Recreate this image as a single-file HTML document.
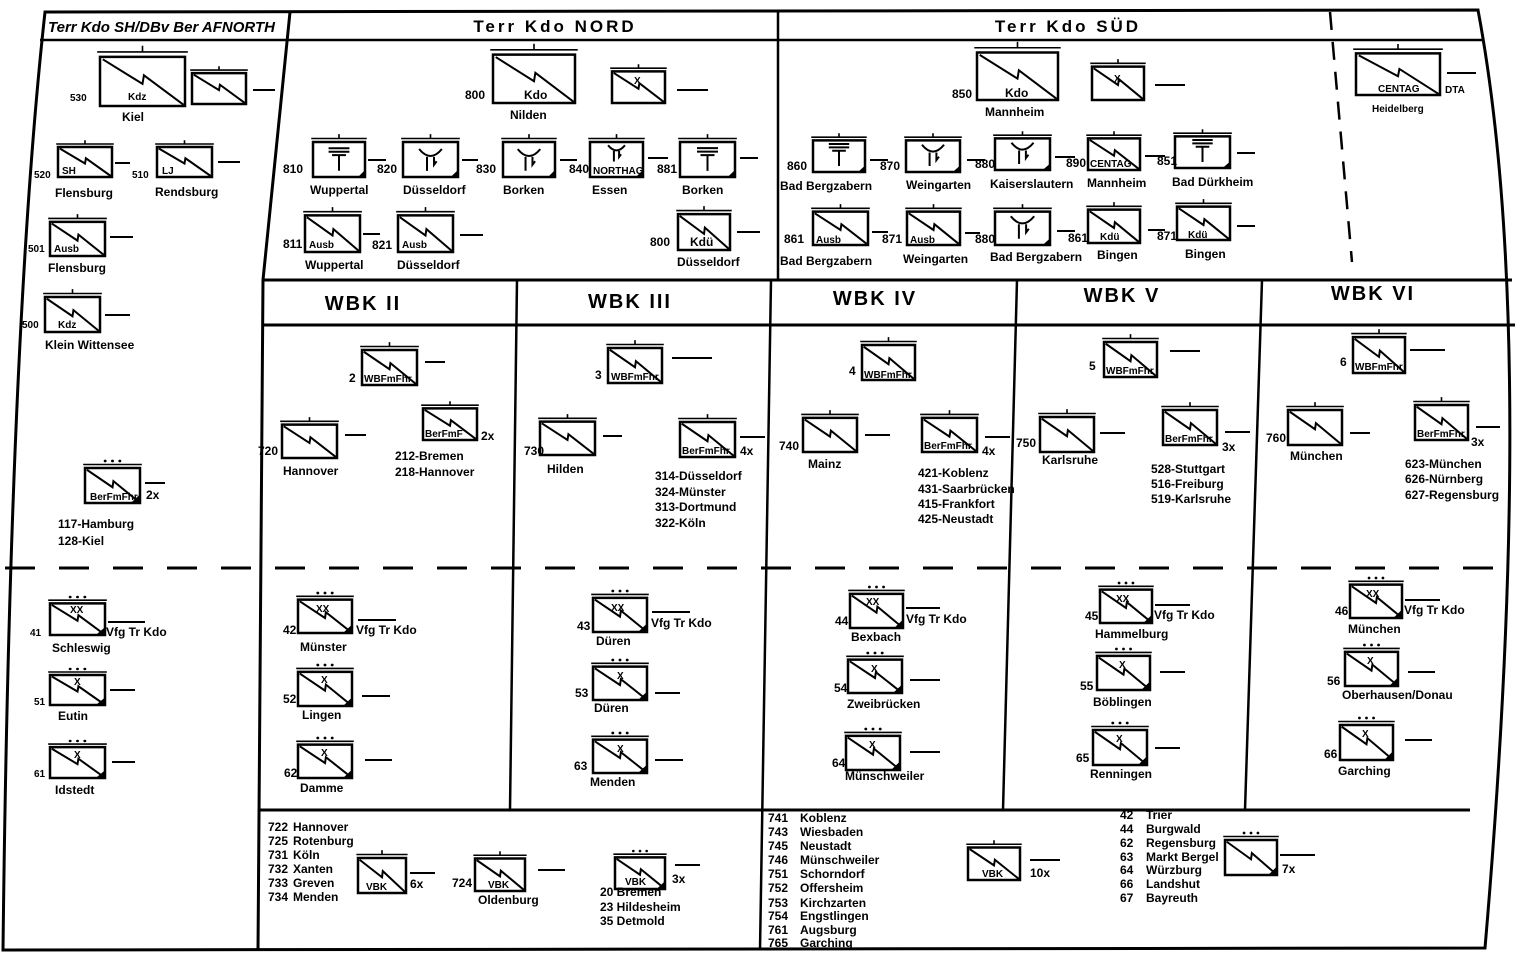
<!DOCTYPE html>
<html><head><meta charset="utf-8"><style>
html,body{margin:0;padding:0;background:#fff}
svg{display:block}
.f{fill:none;stroke:#000;stroke-width:2.5;vector-effect:non-scaling-stroke}
symbol *{vector-effect:non-scaling-stroke}
text{font-family:"Liberation Sans Narrow","Liberation Sans",sans-serif;font-weight:bold;font-size:12px;fill:#000}
.h{font-family:"Liberation Sans",sans-serif;font-size:17px;letter-spacing:3px}
.w{font-family:"Liberation Sans",sans-serif;font-size:20px;letter-spacing:2px}
.s{font-size:10px}
.l{stroke:#000;stroke-width:2;fill:none}
</style></head><body>
<svg width="1522" height="959" viewBox="0 0 1522 959" xmlns="http://www.w3.org/2000/svg">
<defs>
<symbol id="zt" viewBox="0 -8 60 48" preserveAspectRatio="none" overflow="visible">
<rect x="0" y="0" width="60" height="40" fill="none" stroke="#000" stroke-width="2.5"/>
<polyline points="2,2 30,22 31,15 59,39" fill="none" stroke="#000" stroke-width="2"/>
<path d="M-2 -4H62M30 -4V-9" fill="none" stroke="#000" stroke-width="1.6"/>
</symbol>
<symbol id="zd" viewBox="0 -8 60 48" preserveAspectRatio="none" overflow="visible">
<rect x="0" y="0" width="60" height="40" fill="none" stroke="#000" stroke-width="2.5"/>
<polyline points="2,2 30,22 31,15 59,39" fill="none" stroke="#000" stroke-width="2"/>
<path d="M-2 -4H62" fill="none" stroke="#000" stroke-width="1.6"/>
<polygon points="50,40 60,40 60,30" fill="#000"/>
<circle cx="22" cy="-8" r="1.6" fill="#000"/><circle cx="30" cy="-8" r="1.6" fill="#000"/><circle cx="38" cy="-8" r="1.6" fill="#000"/>
</symbol>
<symbol id="e" viewBox="0 -8 60 48" preserveAspectRatio="none" overflow="visible">
<rect x="0" y="0" width="60" height="40" fill="none" stroke="#000" stroke-width="2.5"/>
<path d="M-2 -4H62M30 -4V-9" fill="none" stroke="#000" stroke-width="1.6"/>
<polygon points="52,40 60,40 60,32" fill="#000"/>
</symbol>
<symbol id="tt" viewBox="0 0 60 40" overflow="visible"><path d="M18 7H42M18 11H42M22 15H38M30 15V33" fill="none" stroke="#000" stroke-width="2"/></symbol>
<symbol id="yy" viewBox="0 0 60 40" overflow="visible"><path d="M17 8Q30 24 43 8M26 17V33M34 17V26L37 22" fill="none" stroke="#000" stroke-width="2"/></symbol>
</defs>

<!-- frame -->
<path class="f" style="stroke-width:3" d="M45 12 L1478 10 Q1538 330 1485 948 L3 950 Q10 330 45 12Z"/>
<path class="f" d="M40 40H1482"/>
<path class="f" style="stroke-width:3" d="M290 12 L263 280 L258 950"/>
<path class="f" d="M778 12V280"/>
<path class="f" style="stroke-dasharray:18 12" d="M1330 12 L1352 262"/>
<path class="f" style="stroke-width:3" d="M263 280H1512M262 325H1515"/>
<path class="f" d="M517 280L510 810M771 280L760 950M1017 280L1003 810M1262 280L1245 810"/>
<path class="f" style="stroke-width:3;stroke-dasharray:30 24" d="M5 568H1505"/>
<path class="f" style="stroke-width:3" d="M259 810H1470"/>

<!-- headers -->
<text x="48" y="32" style="font-size:15px;font-style:italic">Terr Kdo SH/DBv Ber AFNORTH</text>
<text class="h" x="555" y="32" text-anchor="middle">Terr Kdo NORD</text>
<text class="h" x="1068" y="32" text-anchor="middle">Terr Kdo SÜD</text>
<text class="w" x="363" y="310" text-anchor="middle">WBK II</text>
<text class="w" x="630" y="308" text-anchor="middle">WBK III</text>
<text class="w" x="875" y="305" text-anchor="middle">WBK IV</text>
<text class="w" x="1122" y="302" text-anchor="middle">WBK V</text>
<text class="w" x="1373" y="300" text-anchor="middle">WBK VI</text>

<!-- left column -->
<use href="#zt" x="100" y="47" width="85" height="59"/><text x="70" y="101" class="s">530</text><text x="128" y="100" class="s">Kdz</text><text x="122" y="121">Kiel</text>
<use href="#zt" x="192" y="67" width="54" height="37"/><path class="l" d="M253 90H275"/>
<use href="#zt" x="58" y="141" width="54" height="36"/><text x="34" y="178" class="s">520</text><text x="62" y="174" class="s">SH</text><path class="l" d="M115 163H130"/><text x="132" y="178" class="s">510</text>
<use href="#zt" x="157" y="141" width="55" height="36"/><text x="162" y="174" class="s">LJ</text><path class="l" d="M218 162H240"/>
<text x="55" y="197">Flensburg</text><text x="155" y="196">Rendsburg</text>
<use href="#zt" x="50" y="215" width="55" height="41"/><text x="28" y="252" class="s">501</text><text x="54" y="252" class="s">Ausb</text><path class="l" d="M110 237H133"/><text x="48" y="272">Flensburg</text>
<use href="#zt" x="45" y="290" width="55" height="42"/><text x="22" y="328" class="s">500</text><text x="58" y="328" class="s">Kdz</text><path class="l" d="M105 315H130"/><text x="45" y="349">Klein Wittensee</text>
<use href="#zd" x="85" y="461" width="55" height="42"/><text x="90" y="500" class="s">BerFmFhr</text><path class="l" d="M145 483H165"/><text x="146" y="499">2x</text>
<text x="58" y="528">117-Hamburg</text><text x="58" y="545">128-Kiel</text>

<use href="#zd" x="50" y="597" width="55" height="38"/><text x="70" y="613" class="s">XX</text><text x="30" y="636" class="s">41</text><path class="l" d="M108 622H145"/><text x="106" y="636">Vfg Tr Kdo</text><text x="52" y="652">Schleswig</text>
<use href="#zd" x="50" y="669" width="55" height="36"/><text x="74" y="685" class="s">X</text><text x="34" y="705" class="s">51</text><path class="l" d="M110 690H135"/><text x="58" y="720">Eutin</text>
<use href="#zd" x="50" y="741" width="55" height="37"/><text x="74" y="758" class="s">X</text><text x="34" y="777" class="s">61</text><path class="l" d="M112 762H135"/><text x="55" y="794">Idstedt</text>

<!-- NORD -->
<use href="#zt" x="493" y="45" width="82" height="58"/><text x="465" y="99">800</text><text x="524" y="99">Kdo</text><text x="510" y="119">Nilden</text>
<use href="#zt" x="612" y="65" width="53" height="38"/><text x="634" y="84" class="s">X</text><path class="l" d="M677 90H708"/>
<use href="#e" x="313" y="135" width="52" height="42"/><use href="#tt" x="313" y="142" width="52" height="35"/><text x="283" y="173">810</text><path class="l" d="M368 160H386"/><text x="377" y="173">820</text>
<use href="#e" x="403" y="135" width="55" height="42"/><use href="#yy" x="403" y="142" width="55" height="35"/><path class="l" d="M462 160H478"/><text x="476" y="173">830</text>
<use href="#e" x="503" y="135" width="52" height="42"/><use href="#yy" x="503" y="142" width="52" height="35"/><path class="l" d="M560 160H577"/><text x="569" y="173">840</text>
<use href="#e" x="590" y="135" width="53" height="42"/><use href="#yy" x="590" y="140" width="53" height="26"/><text x="593" y="174" class="s">NORTHAG</text><path class="l" d="M648 158H668"/><text x="657" y="173">881</text>
<use href="#e" x="680" y="135" width="55" height="42"/><use href="#tt" x="680" y="142" width="55" height="35"/><path class="l" d="M740 158H758"/>
<text x="310" y="194">Wuppertal</text><text x="403" y="194">Düsseldorf</text><text x="503" y="194">Borken</text><text x="592" y="194">Essen</text><text x="682" y="194">Borken</text>
<use href="#zt" x="305" y="208" width="55" height="44"/><text x="283" y="248">811</text><text x="309" y="248" class="s">Ausb</text><path class="l" d="M363 234H380"/><text x="372" y="249">821</text>
<use href="#zt" x="398" y="208" width="55" height="44"/><text x="402" y="248" class="s">Ausb</text><path class="l" d="M460 235H483"/>
<text x="305" y="269">Wuppertal</text><text x="397" y="269">Düsseldorf</text>
<use href="#zt" x="678" y="207" width="52" height="43"/><text x="650" y="246">800</text><text x="690" y="246">Kdü</text><path class="l" d="M737 232H760"/><text x="677" y="266">Düsseldorf</text>

<!-- SÜD -->
<use href="#zt" x="977" y="43" width="81" height="57"/><text x="952" y="98">850</text><text x="1005" y="97">Kdo</text><text x="985" y="116">Mannheim</text>
<use href="#zt" x="1092" y="60" width="52" height="40"/><text x="1114" y="82" class="s">X</text><path class="l" d="M1155 85H1185"/>
<use href="#e" x="813" y="134" width="52" height="38"/><use href="#tt" x="813" y="138" width="52" height="34"/><text x="787" y="170">860</text><path class="l" d="M870 160H888"/><text x="880" y="170">870</text>
<use href="#e" x="906" y="134" width="54" height="38"/><use href="#yy" x="906" y="138" width="54" height="34"/><path class="l" d="M967 160H985"/><text x="975" y="168">880</text>
<use href="#e" x="995" y="132" width="55" height="38"/><use href="#yy" x="995" y="136" width="55" height="34"/><path class="l" d="M1055 157H1075"/><text x="1066" y="167">890</text>
<use href="#zt" x="1088" y="132" width="52" height="38"/><text x="1090" y="167" class="s">CENTAG</text><path class="l" d="M1145 156H1165"/><text x="1157" y="165">851</text>
<use href="#e" x="1175" y="130" width="55" height="38"/><use href="#tt" x="1175" y="134" width="55" height="34"/><path class="l" d="M1237 153H1255"/>
<text x="780" y="190">Bad Bergzabern</text><text x="906" y="189">Weingarten</text><text x="990" y="188">Kaiserslautern</text><text x="1087" y="187">Mannheim</text><text x="1172" y="186">Bad Dürkheim</text>
<use href="#zt" x="813" y="205" width="55" height="40"/><text x="784" y="243">861</text><text x="816" y="243" class="s">Ausb</text><path class="l" d="M872 232H888"/><text x="882" y="243">871</text>
<use href="#zt" x="907" y="205" width="53" height="40"/><text x="910" y="243" class="s">Ausb</text><path class="l" d="M965 233H980"/><text x="975" y="243">880</text>
<use href="#e" x="995" y="205" width="55" height="40"/><use href="#yy" x="995" y="209" width="55" height="36"/><path class="l" d="M1057 231H1075"/><text x="1068" y="242">861</text>
<use href="#zt" x="1088" y="203" width="52" height="40"/><text x="1100" y="240" class="s">Kdü</text><path class="l" d="M1148 230H1165"/><text x="1157" y="240">871</text>
<use href="#zt" x="1177" y="200" width="53" height="40"/><text x="1188" y="238" class="s">Kdü</text><path class="l" d="M1237 226H1255"/>
<text x="780" y="265">Bad Bergzabern</text><text x="903" y="263">Weingarten</text><text x="990" y="261">Bad Bergzabern</text><text x="1097" y="259">Bingen</text><text x="1185" y="258">Bingen</text>
<use href="#zt" x="1356" y="45" width="84" height="50"/><text x="1378" y="92" class="s">CENTAG</text><text x="1445" y="93" class="s">DTA</text><path class="l" d="M1447 73H1476"/><text x="1372" y="112" class="s">Heidelberg</text>

<!-- WBK upper -->
<use href="#zt" x="362" y="343" width="55" height="42"/><text x="349" y="382">2</text><text x="364" y="382" class="s">WBFmFhr</text><path class="l" d="M425 362H445"/>
<use href="#zt" x="282" y="418" width="55" height="40"/><text x="258" y="455">720</text><path class="l" d="M345 435H366"/><text x="283" y="475">Hannover</text>
<use href="#zt" x="423" y="402" width="54" height="38"/><text x="425" y="437" class="s">BerFmF</text><text x="481" y="440">2x</text><text x="395" y="460">212-Bremen</text><text x="395" y="476">218-Hannover</text>
<use href="#zt" x="608" y="341" width="54" height="42"/><text x="595" y="379">3</text><text x="611" y="380" class="s">WBFmFhr</text><path class="l" d="M672 358H712"/>
<use href="#zt" x="540" y="415" width="55" height="40"/><text x="524" y="455">730</text><path class="l" d="M603 436H622"/><text x="547" y="473">Hilden</text>
<use href="#zt" x="680" y="415" width="55" height="42"/><text x="682" y="454" class="s">BerFmFhr</text><path class="l" d="M740 437H765"/><text x="740" y="455">4x</text>
<text x="655" y="480">314-Düsseldorf</text><text x="655" y="496">324-Münster</text><text x="655" y="511">313-Dortmund</text><text x="655" y="527">322-Köln</text>
<use href="#zt" x="862" y="338" width="53" height="42"/><text x="849" y="375">4</text><text x="864" y="378" class="s">WBFmFhr</text>
<use href="#zt" x="803" y="411" width="54" height="41"/><text x="779" y="450">740</text><path class="l" d="M865 435H890"/><text x="808" y="468">Mainz</text>
<use href="#zt" x="922" y="411" width="55" height="41"/><text x="924" y="449" class="s">BerFmFhr</text><path class="l" d="M985 437H1010"/><text x="982" y="455">4x</text>
<text x="918" y="477">421-Koblenz</text><text x="918" y="493">431-Saarbrücken</text><text x="918" y="508">415-Frankfort</text><text x="918" y="523">425-Neustadt</text>
<use href="#zt" x="1104" y="335" width="53" height="42"/><text x="1089" y="370">5</text><text x="1106" y="374" class="s">WBFmFhr</text><path class="l" d="M1170 351H1200"/>
<use href="#zt" x="1040" y="410" width="54" height="42"/><text x="1016" y="447">750</text><path class="l" d="M1100 433H1125"/><text x="1042" y="464">Karlsruhe</text>
<use href="#zt" x="1163" y="403" width="54" height="42"/><text x="1165" y="442" class="s">BerFmFhr</text><path class="l" d="M1225 432H1250"/><text x="1222" y="451">3x</text>
<text x="1151" y="473">528-Stuttgart</text><text x="1151" y="488">516-Freiburg</text><text x="1151" y="503">519-Karlsruhe</text>
<use href="#zt" x="1353" y="330" width="52" height="43"/><text x="1340" y="366">6</text><text x="1355" y="370" class="s">WBFmFhr</text><path class="l" d="M1410 350H1445"/>
<use href="#zt" x="1288" y="403" width="54" height="42"/><text x="1266" y="442">760</text><path class="l" d="M1350 433H1370"/><text x="1290" y="460">München</text>
<use href="#zt" x="1415" y="398" width="53" height="42"/><text x="1417" y="437" class="s">BerFmFhr</text><path class="l" d="M1476 427H1500"/><text x="1471" y="446">3x</text>
<text x="1405" y="468">623-München</text><text x="1405" y="483">626-Nürnberg</text><text x="1405" y="499">627-Regensburg</text>

<!-- WBK lower -->
<use href="#zd" x="298" y="593" width="54" height="40"/><text x="316" y="612" class="s">XX</text><text x="283" y="634">42</text><path class="l" d="M358 620H396"/><text x="356" y="634">Vfg Tr Kdo</text><text x="300" y="651">Münster</text>
<use href="#zd" x="298" y="665" width="54" height="41"/><text x="321" y="683" class="s">X</text><text x="283" y="703">52</text><path class="l" d="M362 696H390"/><text x="302" y="719">Lingen</text>
<use href="#zd" x="298" y="738" width="54" height="40"/><text x="321" y="756" class="s">X</text><text x="284" y="777">62</text><path class="l" d="M365 760H392"/><text x="300" y="792">Damme</text>
<use href="#zd" x="593" y="591" width="54" height="41"/><text x="611" y="611" class="s">XX</text><text x="577" y="630">43</text><path class="l" d="M652 612H690"/><text x="651" y="627">Vfg Tr Kdo</text><text x="596" y="645">Düren</text>
<use href="#zd" x="593" y="660" width="54" height="40"/><text x="617" y="679" class="s">X</text><text x="575" y="697">53</text><path class="l" d="M655 693H680"/><text x="594" y="712">Düren</text>
<use href="#zd" x="593" y="733" width="54" height="40"/><text x="617" y="752" class="s">X</text><text x="574" y="770">63</text><path class="l" d="M655 760H683"/><text x="590" y="786">Menden</text>
<use href="#zd" x="850" y="587" width="53" height="41"/><text x="866" y="605" class="s">XX</text><text x="835" y="625">44</text><path class="l" d="M906 608H940"/><text x="906" y="623">Vfg Tr Kdo</text><text x="851" y="641">Bexbach</text>
<use href="#zd" x="848" y="653" width="54" height="40"/><text x="871" y="672" class="s">X</text><text x="834" y="692">54</text><path class="l" d="M910 680H940"/><text x="847" y="708">Zweibrücken</text>
<use href="#zd" x="846" y="729" width="54" height="41"/><text x="869" y="748" class="s">X</text><text x="832" y="767">64</text><path class="l" d="M910 752H940"/><text x="845" y="780">Münschweiler</text>
<use href="#zd" x="1100" y="583" width="52" height="40"/><text x="1116" y="602" class="s">XX</text><text x="1085" y="620">45</text><path class="l" d="M1155 605H1190"/><text x="1154" y="619">Vfg Tr Kdo</text><text x="1095" y="638">Hammelburg</text>
<use href="#zd" x="1097" y="649" width="53" height="41"/><text x="1119" y="668" class="s">X</text><text x="1080" y="690">55</text><path class="l" d="M1160 672H1185"/><text x="1093" y="706">Böblingen</text>
<use href="#zd" x="1093" y="723" width="54" height="42"/><text x="1116" y="742" class="s">X</text><text x="1076" y="762">65</text><path class="l" d="M1155 748H1180"/><text x="1090" y="778">Renningen</text>
<use href="#zd" x="1350" y="578" width="52" height="40"/><text x="1366" y="597" class="s">XX</text><text x="1335" y="615">46</text><path class="l" d="M1405 600H1440"/><text x="1404" y="614">Vfg Tr Kdo</text><text x="1348" y="633">München</text>
<use href="#zd" x="1345" y="645" width="53" height="41"/><text x="1367" y="664" class="s">X</text><text x="1327" y="685">56</text><path class="l" d="M1408 672H1435"/><text x="1342" y="699">Oberhausen/Donau</text>
<use href="#zd" x="1340" y="718" width="53" height="42"/><text x="1362" y="737" class="s">X</text><text x="1324" y="758">66</text><path class="l" d="M1405 740H1432"/><text x="1338" y="775">Garching</text>

<!-- bottom left -->
<g>
<text x="268" y="831">722</text><text x="293" y="831">Hannover</text>
<text x="268" y="845">725</text><text x="293" y="845">Rotenburg</text>
<text x="268" y="859">731</text><text x="293" y="859">Köln</text>
<text x="268" y="873">732</text><text x="293" y="873">Xanten</text>
<text x="268" y="887">733</text><text x="293" y="887">Greven</text>
<text x="268" y="901">734</text><text x="293" y="901">Menden</text>
</g>
<use href="#zt" x="358" y="851" width="48" height="42"/><text x="366" y="890" class="s">VBK</text><path class="l" d="M410 873H435"/><text x="410" y="888">6x</text>
<text x="452" y="887">724</text><use href="#zt" x="475" y="852" width="50" height="39"/><text x="488" y="888" class="s">VBK</text><path class="l" d="M538 870H565"/><text x="478" y="904">Oldenburg</text>
<use href="#zd" x="615" y="851" width="50" height="38"/><text x="625" y="885" class="s">VBK</text><path class="l" d="M675 865H700"/><text x="672" y="883">3x</text>
<text x="600" y="896">20 Bremen</text><text x="600" y="911">23 Hildesheim</text><text x="600" y="925">35 Detmold</text>

<!-- bottom right -->
<g>
<text x="768" y="822">741</text><text x="800" y="822">Koblenz</text>
<text x="768" y="836">743</text><text x="800" y="836">Wiesbaden</text>
<text x="768" y="850">745</text><text x="800" y="850">Neustadt</text>
<text x="768" y="864">746</text><text x="800" y="864">Münschweiler</text>
<text x="768" y="878">751</text><text x="800" y="878">Schorndorf</text>
<text x="768" y="892">752</text><text x="800" y="892">Offersheim</text>
<text x="768" y="907">753</text><text x="800" y="907">Kirchzarten</text>
<text x="768" y="920">754</text><text x="800" y="920">Engstlingen</text>
<text x="768" y="934">761</text><text x="800" y="934">Augsburg</text>
<text x="768" y="947">765</text><text x="800" y="947">Garching</text>
</g>
<use href="#zt" x="968" y="841" width="52" height="39"/><text x="982" y="877" class="s">VBK</text><path class="l" d="M1030 860H1060"/><text x="1030" y="877">10x</text>
<g>
<text x="1120" y="819">42</text><text x="1146" y="819">Trier</text>
<text x="1120" y="833">44</text><text x="1146" y="833">Burgwald</text>
<text x="1120" y="847">62</text><text x="1146" y="847">Regensburg</text>
<text x="1120" y="861">63</text><text x="1146" y="861">Markt Bergel</text>
<text x="1120" y="874">64</text><text x="1146" y="874">Würzburg</text>
<text x="1120" y="888">66</text><text x="1146" y="888">Landshut</text>
<text x="1120" y="902">67</text><text x="1146" y="902">Bayreuth</text>
</g>
<use href="#zd" x="1225" y="833" width="52" height="42"/><path class="l" d="M1280 855H1315"/><text x="1282" y="873">7x</text>
</svg>
</body></html>
